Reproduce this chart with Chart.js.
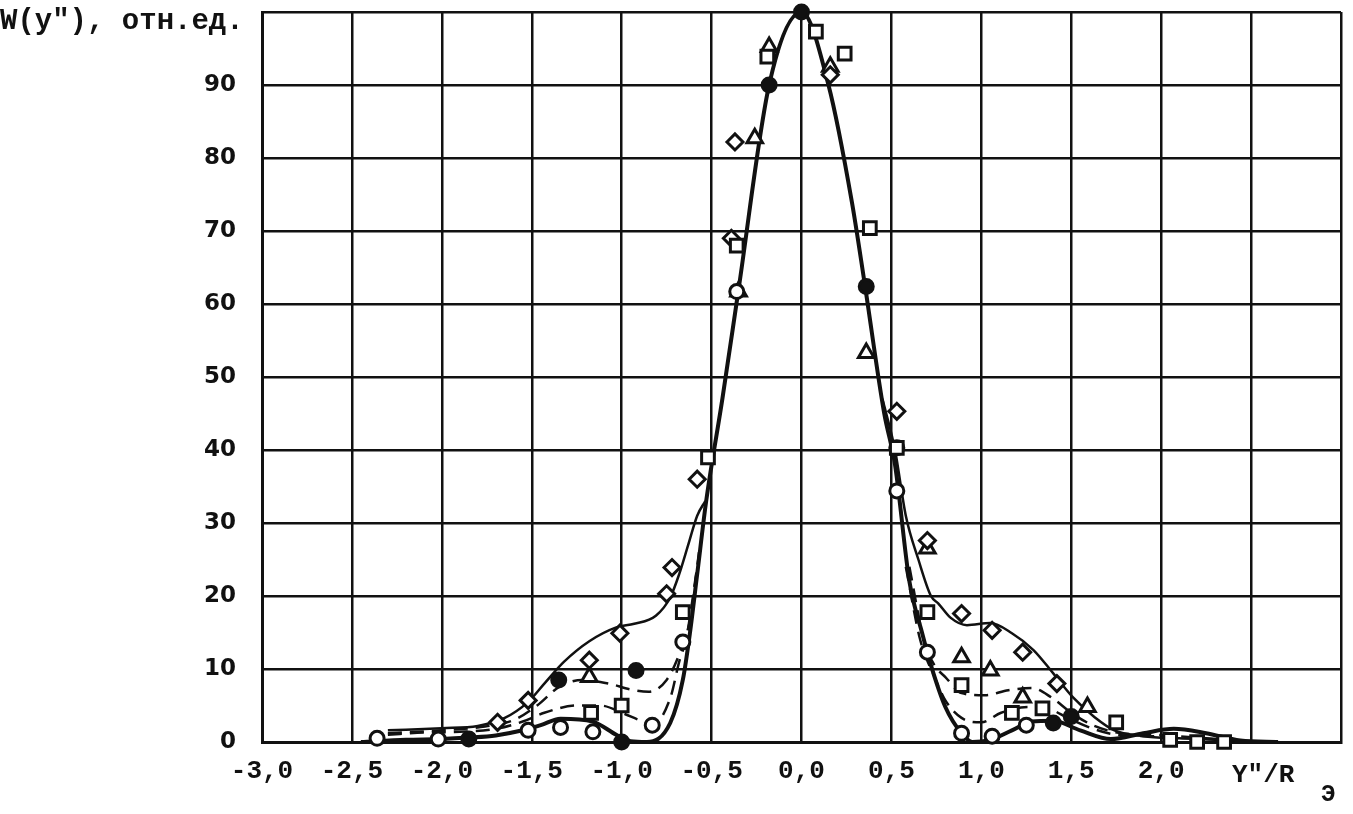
<!DOCTYPE html>
<html>
<head>
<meta charset="utf-8">
<script src="https://cdn.jsdelivr.net/npm/chart.js@4.4.1/dist/chart.umd.min.js"></script>
<style>
  html, body { margin: 0; padding: 0; background: #fff; }
  #wrap { width: 1353px; height: 814px; }
</style>
</head>
<body>
<div id="wrap"><canvas id="chart" width="1353" height="814"></canvas></div>
<script>
// x axis ticks y"/R (every 0.5 from -3 to 3), y axis 0..100
const xTicks = [-3.0, -2.5, -2.0, -1.5, -1.0, -0.5, 0.0, 0.5, 1.0, 1.5, 2.0, 2.5, 3.0];
const yTicks = [0, 10, 20, 30, 40, 50, 60, 70, 80, 90, 100];

// main thick solid curve (with the lowest side lobes)
const mainX = [-2.45, -2.2, -2.0, -1.85, -1.7, -1.55, -1.45, -1.34, -1.16, -1.03, -0.95, -0.86, -0.73, -0.66, -0.62, -0.58, -0.53, -0.44, -0.35, -0.18, 0.0, 0.15, 0.28, 0.35, 0.46, 0.52, 0.6, 0.67, 0.72, 0.8, 0.89, 0.95, 1.05, 1.17, 1.28, 1.4, 1.55, 1.72, 1.9, 2.07, 2.25, 2.44, 2.65];
const mainY = [0, 0.3, 0.4, 0.6, 0.9, 1.6, 2.3, 3.2, 2.8, 1.0, 0.1, 0, 2.6, 8.5, 15, 23, 33, 47, 62, 90, 100, 90, 74, 63, 45, 38, 22, 15, 10.5, 4.8, 1.2, 0, 0.3, 1.6, 2.8, 2.9, 1.6, 0.4, 1.2, 1.8, 1.2, 0.2, 0];

// lower dashed curve (null = break across the main lobe)
const lowX = [-2.3, -2.1, -1.9, -1.7, -1.55, -1.43, -1.25, -1.12, -0.98, -0.9, -0.82, -0.73, -0.68, -0.64, -0.58, 0, 0.58, 0.66, 0.74, 0.8, 0.89, 1.0, 1.11, 1.26, 1.37, 1.48, 1.6, 1.75, 1.95, 2.15, 2.35];
const lowY = [1.0, 1.3, 1.4, 1.8, 2.8, 4.0, 5.0, 5.0, 3.8, 3.0, 2.6, 6, 11, 14.3, 24, null, 24, 14, 8.9, 5.7, 3.3, 2.7, 4.0, 4.8, 4.6, 3.3, 2.0, 1.0, 0.8, 0.6, 0.3];

// middle dashed curve
const midX = [-2.3, -2.0, -1.8, -1.6, -1.47, -1.35, -1.22, -1.07, -0.95, -0.85, -0.75, -0.68, -0.62, -0.57, 0, 0.6, 0.68, 0.74, 0.8, 0.89, 1.02, 1.15, 1.28, 1.39, 1.5, 1.62, 1.78, 1.95, 2.15, 2.35, 2.5];
const midY = [1.2, 1.6, 2.0, 3.0, 5.0, 7.5, 8.5, 8.0, 7.2, 6.9, 8.5, 12, 16.7, 26, null, 24, 14, 10.5, 8.9, 6.7, 6.4, 7.1, 7.4, 6.1, 4.0, 2.3, 1.2, 1.0, 0.7, 0.3, 0];

// upper solid curve (diamonds)
const upX = [-2.3, -2.0, -1.8, -1.65, -1.52, -1.43, -1.32, -1.18, -1.03, -0.93, -0.81, -0.73, -0.68, -0.63, -0.58, -0.535, 0, 0.45, 0.52, 0.58, 0.65, 0.72, 0.76, 0.83, 0.92, 1.05, 1.17, 1.29, 1.4, 1.51, 1.63, 1.74, 1.9, 2.1, 2.3, 2.5];
const upY = [1.6, 1.9, 2.2, 3.3, 5.5, 8, 11, 13.8, 15.7, 16.2, 17.3, 19.8, 23, 27, 31, 33, null, 47, 40, 31, 25, 20, 19, 17, 16, 16.3, 14.9, 12.6, 9.4, 6.1, 3.4, 1.6, 0.8, 0.5, 0.3, 0];

// measured points
const circlesX = [-2.36, -2.02, -1.52, -1.34, -1.16, -0.83, -0.66, -0.36, 0.53, 0.7, 0.89, 1.06, 1.25];
const circlesY = [0.5, 0.4, 1.6, 2.0, 1.4, 2.3, 13.7, 61.7, 34.4, 12.3, 1.2, 0.8, 2.3];
const squaresX = [-1.17, -1.0, -0.66, -0.52, -0.36, -0.19, 0.08, 0.24, 0.38, 0.53, 0.7, 0.89, 1.17, 1.34, 1.75, 2.05, 2.2, 2.35];
const squaresY = [4.0, 5.0, 17.8, 39.0, 68, 93.9, 97.3, 94.3, 70.4, 40.3, 17.8, 7.8, 4.0, 4.6, 2.7, 0.3, 0, 0];
const diamondsX = [-1.69, -1.52, -1.18, -1.01, -0.75, -0.72, -0.58, -0.39, -0.37, 0.16, 0.53, 0.70, 0.89, 1.06, 1.23, 1.42];
const diamondsY = [2.7, 5.7, 11.2, 14.9, 20.3, 23.9, 36, 69, 82.2, 91.4, 45.3, 27.6, 17.6, 15.3, 12.3, 8];
const trianglesX = [-1.18, -0.35, -0.26, -0.18, 0.16, 0.36, 0.70, 0.89, 1.05, 1.23, 1.59];
const trianglesY = [8.9, 61.7, 82.7, 95.2, 92.5, 53.3, 26.5, 11.6, 9.8, 6.1, 4.8];
const filledX = [-1.85, -1.35, -1.0, -0.92, -0.18, 0.0, 0.36, 0.53, 1.4, 1.5];
const filledY = [0.4, 8.5, 0, 9.8, 90, 100, 62.4, 40.3, 2.6, 3.5];

const ink = '#111';

function pts(xs, ys) {
    return xs.map((x, i) => ({ x: x, y: ys[i] }));
}

function curve(xs, ys, width, dash) {
    return {
        type: 'line',
        data: pts(xs, ys),
        borderColor: ink,
        borderWidth: width,
        borderDash: dash,
        pointRadius: 0,
        fill: false,
        spanGaps: false,
        cubicInterpolationMode: 'monotone',
        order: 5
    };
}

function marks(xs, ys, style, filled, r) {
    return {
        type: 'scatter',
        data: pts(xs, ys),
        pointStyle: style,
        pointRadius: r,
        pointBorderWidth: 3,
        pointBorderColor: ink,
        pointBackgroundColor: filled ? ink : '#fff',
        showLine: false,
        clip: false,
        order: 1
    };
}

// white page + the typed captions
const captions = {
    id: 'captions',
    beforeDraw(chart) {
        const c = chart.ctx;
        c.save();
        c.fillStyle = '#fff';
        c.fillRect(0, 0, chart.width, chart.height);
        c.restore();
    },
    afterDraw(chart) {
        const c = chart.ctx;
        c.save();
        c.fillStyle = ink;
        c.textBaseline = 'alphabetic';
        c.font = 'bold 29px "Liberation Mono"';
        c.fillText('W(y"), отн.ед.', 0, 29);
        c.font = 'bold 26px "Liberation Mono"';
        c.fillText('Y"/R', 1232, 782);
        c.font = 'bold 24px "Liberation Mono"';
        c.fillText('Э', 1321, 801);
        c.restore();
    }
};

new Chart(document.getElementById('chart'), {
    data: {
        datasets: [
            curve(mainX, mainY, 4, []),
            curve(lowX, lowY, 2.5, [14, 8]),
            curve(midX, midY, 2.5, [14, 8]),
            curve(upX, upY, 2.5, []),
            marks(circlesX, circlesY, 'circle', false, 7),
            marks(squaresX, squaresY, 'rect', false, 9),
            marks(diamondsX, diamondsY, 'rectRot', false, 8),
            marks(trianglesX, trianglesY, 'triangle', false, 9),
            marks(filledX, filledY, 'circle', true, 7)
        ]
    },
    options: {
        responsive: false,
        animation: false,
        layout: { padding: { left: 0, top: 10, right: 6, bottom: 0 } },
        plugins: { legend: { display: false }, tooltip: { enabled: false } },
        scales: {
            x: {
                type: 'linear',
                min: xTicks[0],
                max: xTicks[xTicks.length - 1],
                afterBuildTicks: (scale) => { scale.ticks = xTicks.map(v => ({ value: v })); },
                afterFit: (scale) => {
                    scale.height = 72;
                    scale.paddingLeft = 0;
                    scale.paddingRight = 0;
                },
                grid: { color: ink, lineWidth: 2.5, drawTicks: false },
                border: { color: ink, width: 3 },
                ticks: {
                    padding: 14,
                    color: ink,
                    font: { family: 'Liberation Mono', size: 26, weight: 'bold' },
                    callback: (v) => (v >= 2.5 ? '' : v.toFixed(1).replace('.', ','))
                }
            },
            y: {
                min: yTicks[0],
                max: yTicks[yTicks.length - 1],
                afterBuildTicks: (scale) => { scale.ticks = yTicks.map(v => ({ value: v })); },
                afterFit: (scale) => {
                    scale.width = 262;
                    scale.paddingTop = 0;
                    scale.paddingBottom = 0;
                },
                grid: { color: ink, lineWidth: 2.5, drawTicks: false },
                border: { color: ink, width: 3 },
                ticks: {
                    padding: 26,
                    color: ink,
                    font: { family: 'DejaVu Sans', size: 23, weight: 'bold' },
                    callback: (v) => (v === 100 ? '' : String(v))
                }
            }
        }
    },
    plugins: [captions]
});
</script>
</body>
</html>
